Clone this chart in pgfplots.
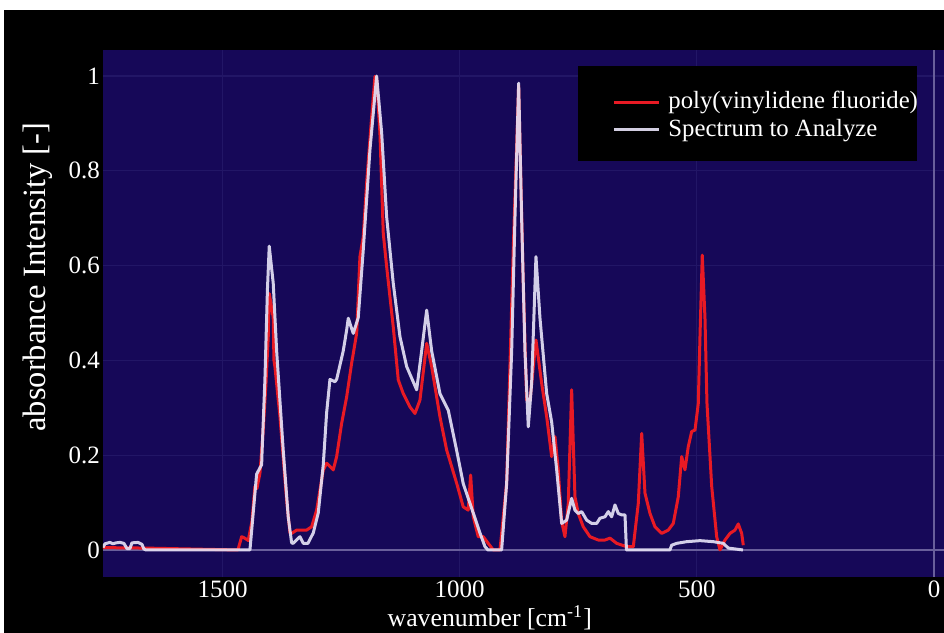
\documentclass[border=0pt]{standalone}
\usepackage{fontspec}
\setmainfont{Liberation Serif}
\usepackage{pgfplots}
\pgfplotsset{compat=1.18}
\definecolor{navy}{RGB}{22,8,88}
\definecolor{gridc}{RGB}{34,22,102}
\definecolor{zeroc}{RGB}{105,95,155}
\definecolor{pvdf}{RGB}{232,26,36}
\definecolor{spec}{RGB}{228,224,245}
\begin{document}
\begin{tikzpicture}
\useasboundingbox (0,0) rectangle (377.6pt,253.2pt);
\fill[white] (0,0) rectangle (377.6pt,253.2pt);
\fill[black] (1.6pt,0) rectangle (377.6pt,249.2pt);
\begin{axis}[
  at={(41.2pt,22.4pt)}, anchor=south west,
  scale only axis, width=336.4pt, height=210.8pt,
  x dir=reverse, xmin=-21, xmax=1752, ymin=-0.057, ymax=1.055,
  axis background/.style={fill=navy},
  axis line style={draw=none},
  major tick length=0pt,
  xtick={0,500,1000,1500}, ytick={0,0.2,0.4,0.6,0.8,1},
  grid=major, grid style={gridc, line width=0.5pt},
  /pgf/number format/1000 sep={},
  /pgf/number format/assume math mode=true,
  tick label style={text=white, font=\fontsize{10}{11}\selectfont},
  xticklabel style={inner sep=0pt, yshift=-1.2pt},
  yticklabel style={inner sep=1pt},
  xlabel={wavenumber [cm\textsuperscript{-1}]},
  ylabel={absorbance Intensity [-]},
  xlabel style={at={(axis description cs:0.460,-0.077)}, anchor=center, inner sep=0pt, text=white, font=\fontsize{10.3}{11}\selectfont},
  ylabel style={at={(axis description cs:-0.0773,0.569)}, anchor=center, text=white, font=\fontsize{13}{15}\selectfont},
  legend style={at={(axis description cs:0.6052,0.8748)}, anchor=west, fill=none, draw=none, text=white,
    font=\fontsize{9.9}{11}\selectfont, inner sep=0pt, row sep=2.7pt, column sep=3.2pt, nodes={inner sep=0pt}},
  legend cell align=left,
  legend image code/.code={\draw[#1] (0pt,0pt) -- (18pt,0pt);},
]
\draw[zeroc, line width=0.5pt] (axis cs:1752,0) -- (axis cs:-21,0);
\draw[zeroc, line width=0.5pt] (axis cs:0,-0.057) -- (axis cs:0,1.055);
\fill[black] (axis description cs:0.5648,0.7894) rectangle (axis description cs:0.9679,0.9696);
\addplot[pvdf, line width=1.2pt, line join=round] coordinates {
(1752,0.005)(1661.5,0.004)(1467.5,0.0)(1459.7,0.028)(1454.9,0.026)(1445.8,0.02)(1438.0,0.06)(1431.7,0.134)(1427.4,0.13)(1421.1,0.162)(1414.2,0.253)(1408.5,0.35)(1403.6,0.45)(1401.5,0.541)(1397.9,0.52)(1393.1,0.49)(1391.6,0.40)(1389.5,0.387)(1378.9,0.281)(1364.8,0.105)(1357.9,0.036)(1354.3,0.035)(1343.7,0.042)(1322.7,0.042)(1312.1,0.049)(1301.6,0.084)(1287.6,0.169)(1280.5,0.183)(1266.5,0.169)(1259.4,0.197)(1248.9,0.267)(1238.3,0.323)(1227.8,0.394)(1217.2,0.457)(1210.3,0.619)(1203.3,0.661)(1196.2,0.774)(1185.6,0.914)(1178.6,0.999)(1175.1,0.995)(1168.1,0.879)(1161.1,0.668)(1154.0,0.598)(1140.1,0.471)(1129.5,0.359)(1119.0,0.33)(1104.9,0.302)(1094.3,0.288)(1083.8,0.316)(1069.6,0.436)(1059.1,0.387)(1041.6,0.281)(1027.5,0.211)(1006.4,0.141)(992.5,0.091)(982.0,0.084)(976.9,0.158)(971.4,0.07)(960.8,0.028)(950.3,0.028)(939.8,0.014)(929.2,0.0)(915.1,0.0)(901.0,0.141)(887.1,0.633)(875.7,0.98)(866.0,0.563)(858.8,0.316)(851.8,0.316)(839.2,0.443)(827.2,0.352)(816.6,0.281)(806.1,0.197)(799.1,0.239)(792.2,0.169)(785.0,0.06)(778.1,0.028)(771.1,0.098)(764.0,0.338)(757.0,0.112)(750.0,0.077)(739.5,0.049)(725.3,0.028)(707.9,0.021)(693.7,0.021)(683.2,0.025)(669.0,0.014)(648.0,0.007)(634.0,0.007)(623.5,0.098)(616.3,0.246)(609.4,0.12)(598.8,0.077)(588.3,0.049)(574.2,0.035)(560.2,0.042)(549.7,0.056)(539.2,0.112)(532.0,0.197)(525.1,0.169)(518.1,0.218)(510.9,0.25)(503.9,0.253)(497.0,0.309)(493.4,0.45)(488.6,0.622)(482.9,0.49)(478.7,0.31)(468.7,0.134)(458.2,0.028)(451.2,0.0)(440.7,0.021)(430.2,0.035)(419.6,0.042)(412.7,0.055)(405.5,0.035)(402.1,0.01)
};
\addlegendentry{poly(vinylidene fluoride)}
\addplot[spec, line width=1.2pt, line join=round, opacity=0.92] coordinates {
(1752,0.005)(1747.9,0.013)(1737.4,0.016)(1731.0,0.013)(1724.7,0.015)(1716.3,0.016)(1707.9,0.014)(1701.5,0.003)(1695.2,0.003)(1691.0,0.015)(1678.3,0.016)(1669.9,0.012)(1665.7,0.002)(1661.5,0.0)(1442.2,0.0)(1428.1,0.16)(1417.5,0.18)(1416.9,0.20)(1410.6,0.36)(1405.3,0.55)(1401.5,0.641)(1393.1,0.563)(1385.9,0.42)(1372.0,0.21)(1361.5,0.07)(1354.3,0.015)(1350.9,0.014)(1343.1,0.022)(1336.8,0.028)(1329.8,0.014)(1319.9,0.014)(1308.7,0.036)(1298.2,0.078)(1287.6,0.18)(1280.5,0.29)(1273.5,0.36)(1263.0,0.355)(1259.4,0.36)(1245.5,0.42)(1238.3,0.464)(1234.9,0.489)(1224.4,0.457)(1213.9,0.49)(1203.3,0.633)(1189.2,0.844)(1175.1,1.0)(1164.5,0.88)(1154.0,0.703)(1140.1,0.563)(1125.9,0.45)(1111.8,0.387)(1090.7,0.338)(1080.2,0.42)(1069.6,0.506)(1059.1,0.42)(1041.6,0.33)(1024.1,0.295)(1006.4,0.21)(992.5,0.14)(971.4,0.078)(957.3,0.036)(946.7,0.007)(940.4,0.0)(911.6,0.0)(901.0,0.14)(890.4,0.42)(883.5,0.70)(875.7,0.985)(869.4,0.70)(862.4,0.42)(855.4,0.26)(848.3,0.352)(839.2,0.619)(830.8,0.49)(816.6,0.33)(806.1,0.27)(795.6,0.17)(785.0,0.056)(774.5,0.063)(764.0,0.109)(757.0,0.084)(750.0,0.077)(742.8,0.081)(732.3,0.063)(721.8,0.056)(711.2,0.056)(704.3,0.067)(693.7,0.070)(686.7,0.081)(679.6,0.07)(672.6,0.095)(665.6,0.077)(658.5,0.074)(651.5,0.074)(648.4,0.0)(556.7,0.0)(553.2,0.01)(542.6,0.014)(521.4,0.0175)(493.4,0.0197)(465.4,0.0175)(444.3,0.014)(433.7,0.004)(402.7,0.0)
};
\addlegendentry{Spectrum to Analyze}
\end{axis}
\end{tikzpicture}
\end{document}
